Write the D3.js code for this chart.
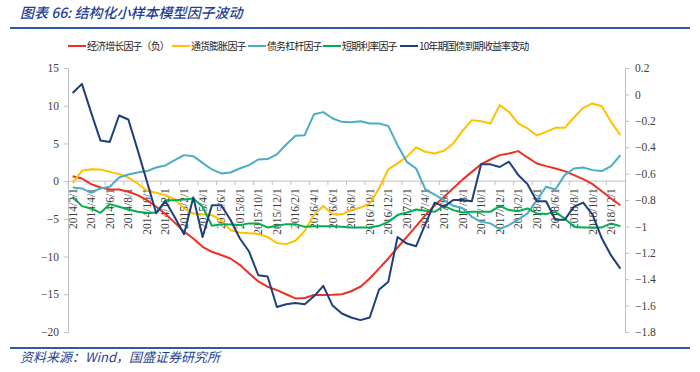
<!DOCTYPE html>
<html>
<head>
<meta charset="utf-8">
<script src="https://cdn.jsdelivr.net/npm/d3@7"></script>
<style>
  body { margin: 0; background: #fff; }
  svg { display: block; }
</style>
</head>
<body>
<svg id="chart"></svg>
<script>
// monthly categories 2014/2/1 .. 2019/1/1
const months = []
for (let y = 2014; y <= 2019; y++) {
  for (let m = 1; m <= 12; m++) {
    if ((y === 2014 && m < 2) || (y === 2019 && m > 1)) continue
    months.push(`${y}/${m}/1`)
  }
}

const seriesNames = ["经济增长因子（负）", "通货膨胀因子", "债务杠杆因子", "短期利率因子", "10年期国债到期收益率变动"]
const seriesColors = ["#ee2f24", "#ffc000", "#4bacc6", "#00b050", "#1f3f7a"]

const growthNeg = [0.66, 0.35, -0.4, -0.84, -1.1, -1.1, -1.41, -1.86, -2.52, -3.4,
  -4.37, -5.5, -6.7, -7.6, -8.7, -9.37, -9.8, -10.25, -11.1, -12.2,
  -13.3, -14.0, -14.45, -15.0, -15.55, -15.5, -15.1, -15.1, -15.07, -15.0,
  -14.6, -14.0, -12.9, -11.6, -10.25, -8.8, -7.4, -5.97, -4.5, -3.2,
  -2.1, -0.93, 0.2, 1.23, 2.25, 2.87, 3.45, 3.67, 3.98, 3.14,
  2.34, 1.99, 1.68, 1.33, 0.8, 0.27, -0.4, -1.33, -2.3, -3.2]

const inflation = [-0.22, 1.37, 1.59, 1.55, 1.23, 0.93, 0.49, -0.31, -1.28, -1.55,
  -1.86, -2.43, -3.6, -4.3, -4.4, -4.5, -5.2, -6.5, -6.8, -6.9,
  -7.0, -7.4, -8.2, -8.35, -7.9, -6.6, -4.5, -3.3, -4.4, -4.4,
  -3.85, -3.5, -2.96, -0.97, 1.55, 2.35, 3.22, 4.47, 3.89, 3.67,
  4.02, 5.0, 6.67, 8.09, 7.95, 7.65, 10.08, 9.19, 7.65, 6.98,
  6.06, 6.54, 7.07, 7.07, 8.44, 9.72, 10.3, 9.94, 7.86, 6.1]

const leverage = [-0.84, -0.97, -1.55, -0.97, -0.75, 0.49, 0.89, 1.15, 1.33, 1.81,
  2.08, 2.78, 3.45, 3.31, 2.43, 1.55, 1.02, 1.15, 1.68, 2.12,
  2.87, 2.92, 3.54, 4.86, 6.01, 6.1, 8.88, 9.15, 8.31, 7.86,
  7.82, 7.95, 7.65, 7.65, 7.33, 4.77, 2.56, 1.68, -1.1, -1.8,
  -2.52, -3.27, -3.6, -4.73, -5.4, -5.6, -6.36, -5.83, -5.08, -4.28,
  -2.52, -0.75, -1.1, 0.8, 1.68, 1.81, 1.46, 1.33, 1.99, 3.45]

const shortRate = [-2.08, -3.31, -3.62, -4.2, -3.05, -3.4, -3.75, -4.07, -4.2, -4.2,
  -2.52, -2.52, -2.43, -2.3, -3.4, -5.92, -5.7, -5.75, -5.83, -5.6,
  -5.6, -6.14, -5.92, -5.7, -5.7, -6.06, -5.97, -5.97, -5.97, -6.06,
  -6.14, -6.14, -6.14, -5.92, -5.4, -4.5, -4.15, -3.75, -3.93, -4.07,
  -3.27, -3.84, -4.15, -4.07, -4.07, -4.07, -3.27, -3.84, -3.98, -3.62,
  -4.28, -4.37, -4.07, -4.95, -6.06, -6.14, -6.14, -6.14, -5.6, -5.97]

// right axis
const yield10y = [0.01, 0.08, -0.14, -0.35, -0.36, -0.16, -0.19, -0.42, -0.66, -0.90,
  -0.81, -0.93, -1.06, -0.78, -1.08, -0.84, -0.84, -0.95, -1.09, -1.19,
  -1.37, -1.38, -1.61, -1.59, -1.58, -1.59, -1.53, -1.45, -1.60, -1.66,
  -1.69, -1.71, -1.69, -1.48, -1.42, -1.08, -1.13, -1.15, -0.98, -0.82,
  -0.85, -0.80, -0.80, -0.81, -0.53, -0.53, -0.55, -0.51, -0.61, -0.68,
  -0.81, -0.81, -0.95, -0.95, -0.85, -0.82, -0.91, -1.09, -1.22, -1.32]

const leftTicks = [15, 10, 5, 0, -5, -10, -15, -20]
const rightTicks = [0.2, 0, -0.2, -0.4, -0.6, -0.8, -1, -1.2, -1.4, -1.6, -1.8]

const width = 700, height = 372
const plot = {left: 68, right: 625, top: 68, bottom: 332}

const svg = d3.select("#chart")
  .attr("width", width)
  .attr("height", height)

const x = d3.scalePoint()
  .domain(months)
  .range([plot.left, plot.right])
  .padding(0.5)

const yL = d3.scaleLinear().domain([-20, 15]).range([plot.bottom, plot.top])
const yR = d3.scaleLinear().domain([-1.8, 0.2]).range([plot.bottom, plot.top])

const axisColor = "#bfbfbf"
const labelColor = "#404040"
const serif = "'Liberation Serif', 'Times New Roman', serif"
const cjk = "'Noto Sans CJK SC', sans-serif"
const blue = "#1f3f94"

// title + rules
svg.append("text")
  .attr("x", 20)
  .attr("y", 18)
  .attr("fill", blue)
  .style("font-family", cjk)
  .style("font-size", "14px")
  .style("font-style", "italic")
  .style("font-weight", 500)
  .text("图表 66:  结构化小样本模型因子波动")

svg.append("line")
  .attr("x1", 10).attr("x2", 690)
  .attr("y1", 28).attr("y2", 28)
  .attr("stroke", "#2b5aa8")
  .attr("stroke-width", 2)

svg.append("line")
  .attr("x1", 10).attr("x2", 690)
  .attr("y1", 348).attr("y2", 348)
  .attr("stroke", "#2b5aa8")
  .attr("stroke-width", 2)

svg.append("text")
  .attr("x", 20)
  .attr("y", 362)
  .attr("fill", blue)
  .style("font-family", cjk)
  .style("font-size", "13px")
  .style("font-style", "italic")
  .text("资料来源：Wind，国盛证券研究所")

// left axis
const gL = svg.append("g")
  .attr("transform", `translate(${plot.left},0)`)
  .call(d3.axisLeft(yL).tickValues(leftTicks).tickSize(4).tickPadding(5).tickFormat(d => d < 0 ? "−" + Math.abs(d) : d))
gL.select(".domain").attr("stroke", axisColor)
gL.selectAll(".tick line").attr("stroke", axisColor)
gL.selectAll(".tick text")
  .attr("fill", labelColor)
  .style("font-family", serif)
  .style("font-size", "11.5px")

// right axis
const fmtR = d => {
  if (d === 0) return "0"
  const s = Number.isInteger(d) ? String(Math.abs(d)) : Math.abs(d).toFixed(1)
  return (d < 0 ? "−" : "") + s
}
const gR = svg.append("g")
  .attr("transform", `translate(${plot.right},0)`)
  .call(d3.axisRight(yR).tickValues(rightTicks).tickSize(4).tickPadding(6).tickFormat(fmtR))
gR.select(".domain").attr("stroke", axisColor)
gR.selectAll(".tick line").attr("stroke", axisColor)
gR.selectAll(".tick text")
  .attr("fill", labelColor)
  .style("font-family", serif)
  .style("font-size", "11.5px")

// x axis on left zero line
const step = x.step()
const gX = svg.append("g")
  .attr("transform", `translate(0,${yL(0)})`)
gX.append("line")
  .attr("x1", plot.left).attr("x2", plot.right)
  .attr("stroke", axisColor)
gX.selectAll("line.tk")
  .data(months.filter((d, i) => i % 2 === 0))
  .enter().append("line")
  .attr("class", "tk")
  .attr("x1", d => x(d) - step / 2)
  .attr("x2", d => x(d) - step / 2)
  .attr("y1", 0).attr("y2", 4)
  .attr("stroke", axisColor)
gX.selectAll("text")
  .data(months.filter((d, i) => i % 2 === 0))
  .enter().append("text")
  .attr("transform", d => `translate(${x(d) + 4},7) rotate(-90)`)
  .attr("text-anchor", "end")
  .attr("fill", labelColor)
  .style("font-family", serif)
  .style("font-size", "11.5px")
  .text(d => d)

// lines
const leftSeries = [growthNeg, inflation, leverage, shortRate]
const lineL = d3.line().x((d, i) => x(months[i])).y(d => yL(d))
const lineR = d3.line().x((d, i) => x(months[i])).y(d => yR(d))

const gLines = svg.append("g")
  .attr("fill", "none")
  .attr("stroke-width", 2)
  .attr("stroke-linejoin", "round")

leftSeries.forEach((s, k) => {
  gLines.append("path")
    .datum(s)
    .attr("stroke", seriesColors[k])
    .attr("d", lineL)
})
gLines.append("path")
  .datum(yield10y)
  .attr("stroke", seriesColors[4])
  .attr("d", lineR)

// legend
const legendX = [68, 172, 248, 323, 400]
const legend = svg.append("g")
  .selectAll("g")
  .data(seriesNames)
  .enter().append("g")
  .attr("transform", (d, i) => `translate(${legendX[i]},46)`)
legend.append("line")
  .attr("x1", 0).attr("x2", 18)
  .attr("stroke", (d, i) => seriesColors[i])
  .attr("stroke-width", 2)
legend.append("text")
  .attr("x", 19)
  .attr("y", 3.5)
  .attr("fill", "#262626")
  .style("font-family", cjk)
  .style("font-size", "10px")
  .style("letter-spacing", "-0.9px")
  .text(d => d)
</script>
</body>
</html>
